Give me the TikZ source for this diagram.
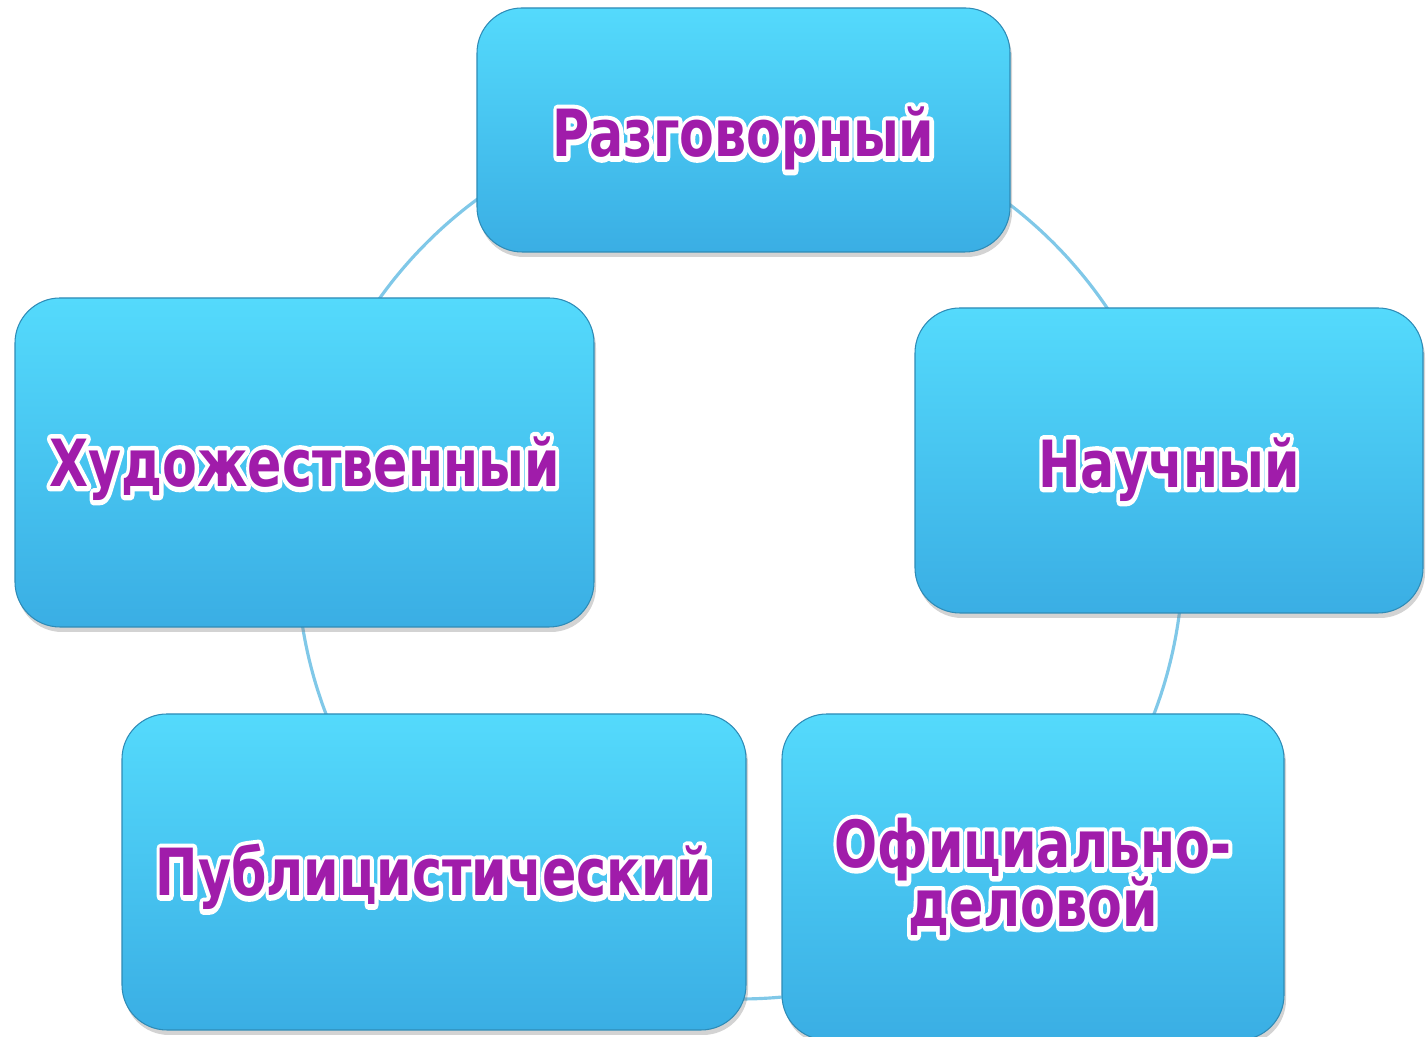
\documentclass[tikz,border=0pt]{standalone}
\usepackage{fontspec}
\setmainfont{DejaVu Sans}
\usepackage{tikz}
\usetikzlibrary{shadows}
\definecolor{boxtop}{RGB}{84,218,252}
\definecolor{boxbot}{RGB}{58,174,228}
\definecolor{ring}{RGB}{128,200,232}
\definecolor{txtpurple}{RGB}{160,28,170}
% purple letters on a white stroked outline
\newcommand{\stylename}[1]{\scalebox{0.78}[1]{\rlap{\color{white}\special{pdf:literal direct 1 1 1 RG 2.8 w 1 j 1 Tr}#1\special{pdf:literal direct 0 Tr}}\textcolor{txtpurple}{#1}}}

\begin{document}
\begin{tikzpicture}[
		stylebox/.style={rectangle, rounded corners=0.45cm, top color=boxtop, bottom color=boxbot, draw=boxbot!80!black, line width=0.3pt, drop shadow={opacity=0.35, shadow xshift=0.02cm, shadow yshift=-0.05cm}, align=center, font=\fontsize{18.5}{16.5}\selectfont\bfseries}
	]
				\useasboundingbox (0, 0) rectangle (14.26, 10.37);
				\draw [ring, line width=0.9pt] (7.40, 4.81) circle (4.43);
				
				\node [stylebox, minimum width=5.33cm, minimum height=2.44cm] (razg) at (7.435, 9.07) {\raisebox{-0.27cm}[0pt][0pt]{\stylename{Разговорный}}};
				\node [stylebox, minimum width=5.79cm, minimum height=3.29cm] (khud) at (3.045, 5.745) {\raisebox{-0.24cm}[0pt][0pt]{\stylename{Художественный}}};
				\node [stylebox, minimum width=5.08cm, minimum height=3.05cm] (nauch) at (11.69, 5.765) {\raisebox{-0.27cm}[0pt][0pt]{\stylename{Научный}}};
				\node [stylebox, minimum width=6.24cm, minimum height=3.16cm] (publ) at (4.34, 1.65) {\raisebox{-0.24cm}[0pt][0pt]{\stylename{Публицистический}}};
				\node [stylebox, minimum width=5.02cm, minimum height=3.26cm] (ofic) at (10.33, 1.60) {\stylename{Официально-}\\[-0.08cm]\stylename{деловой}};
				\end{tikzpicture}
\end{document}
